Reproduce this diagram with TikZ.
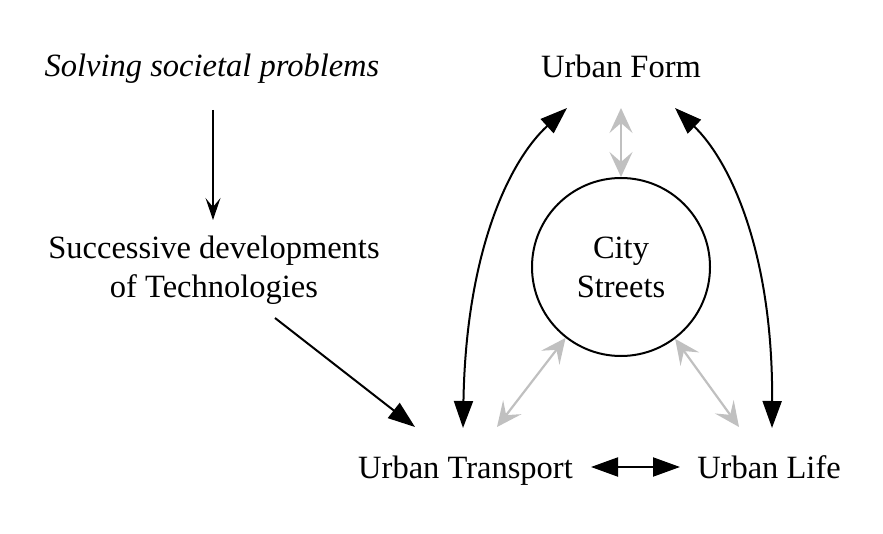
\documentclass[tikz,border=0pt]{standalone}
\usepackage{fontspec}
\setmainfont{Liberation Serif}
\usetikzlibrary{arrows.meta}
\definecolor{lgray}{RGB}{192,192,192}
\tikzset{
  mytri/.tip={Triangle[length=27pt,width=19pt]},
  myveeg/.tip={Stealth[length=25pt,width=23pt,inset=10pt]},
  myveek/.tip={Stealth[length=22pt,width=15pt,inset=9pt]}
}
\begin{document}
\begin{tikzpicture}[x=1pt,y=-1pt,
  lbl/.style={font=\fontsize{32.5}{39}\selectfont, inner sep=0pt, anchor=base, align=center},
  blk/.style={line width=2pt, draw=black},
  gry/.style={line width=2.2pt, draw=lgray, myveeg-myveeg}
]
\useasboundingbox (0,0) rectangle (883,534);
% text nodes
\node[lbl, font=\fontsize{32.5}{39}\selectfont\itshape] (solve) at (212,77) {Solving societal problems};
\node[lbl] (succ) at (214,298) {Successive developments\\of Technologies};
\node[lbl] (form) at (621,78) {Urban Form};
\node[lbl] (trans) at (465.5,478) {Urban Transport};
\node[lbl] (life) at (769,478) {Urban Life};
\node[draw, line width=2pt, circle, minimum size=178pt, inner sep=0pt] (cs) at (621,267) {};
\node[lbl] (city) at (621,298) {City\\Streets};
% connector end points
\coordinate (s1) at (213,110);
\coordinate (s2) at (213,220);
\coordinate (t1) at (275,318);
\coordinate (t2) at (415,427);
\coordinate (lf) at (567,108);
\coordinate (lt) at (463,428);
\coordinate (rf) at (675,108);
\coordinate (rl) at (772,428);
\coordinate (gt) at (621,108);
\coordinate (gl) at (497,427);
\coordinate (gr) at (739,427);
\coordinate (h1) at (591,467);
\coordinate (h2) at (680,467);
% connectors
\draw[line width=1.4pt, -myveek] (s1) -- (s2);
\draw[blk, -mytri] (t1) -- (t2);
\draw[blk, mytri-mytri] (lt) .. controls (466,250) and (510,160) .. (lf);
\draw[blk, mytri-mytri] (rl) .. controls (773,250) and (729,160) .. (rf);
\draw[blk, mytri-mytri] (h1) -- (h2);
\draw[gry] (gt) -- (cs.north);
\draw[gry] (cs.232) -- (gl);
\draw[gry] (cs.-53) -- (gr);
\end{tikzpicture}
\end{document}
